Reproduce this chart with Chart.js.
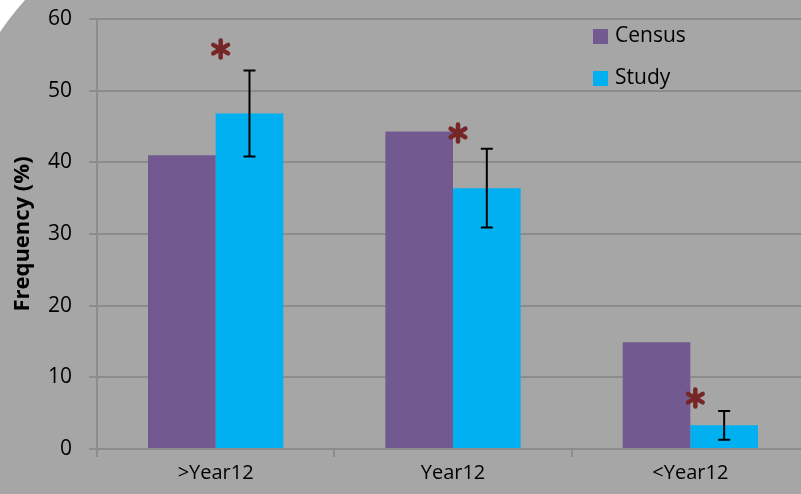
<!DOCTYPE html>
<html>
<head>
<meta charset="utf-8">
<script src="https://cdn.jsdelivr.net/npm/chart.js@4/dist/chart.umd.min.js"></script>
<style>
  html, body { margin: 0; padding: 0; background: #a6a6a6; overflow: hidden; }
  canvas { display: block; }
</style>
</head>
<body>
<canvas id="eduChart" width="809" height="494"></canvas>
<script>
const categories = ['>Year12', 'Year12', '<Year12'];
const censusValues = [41.0, 44.3, 14.9];
const studyValues = [46.8, 36.4, 3.3];
const studyErrors = [6.0, 5.5, 2.0];
// height (in %) at which each significance star sits
const starLevels = [55.8, 44.1, 7.1];

const FONT = '"Open Sans", "Liberation Sans", sans-serif';
const GRID = '#8c8c8c';

// white folded corner in the top-left
const cornerPlugin = {
    id: 'corner',
    beforeDraw(chart) {
        const ctx = chart.ctx;
        ctx.save();
        ctx.fillStyle = '#ffffff';
        ctx.beginPath();
        ctx.moveTo(0, 0);
        ctx.lineTo(25, 0);
        ctx.quadraticCurveTo(10, 17, 0, 32);
        ctx.closePath();
        ctx.fill();
        ctx.restore();
    }
};

const errorBarPlugin = {
    id: 'errorBars',
    afterDatasetsDraw(chart) {
        const ctx = chart.ctx;
        const yScale = chart.scales.y;
        const meta = chart.getDatasetMeta(1);
        ctx.save();
        ctx.strokeStyle = '#000000';
        ctx.lineWidth = 2;
        meta.data.forEach((bar, i) => {
            const v = studyValues[i], e = studyErrors[i];
            const top = yScale.getPixelForValue(v + e);
            const bot = yScale.getPixelForValue(v - e);
            ctx.beginPath();
            ctx.moveTo(bar.x, top);
            ctx.lineTo(bar.x, bot);
            ctx.moveTo(bar.x - 6, top);
            ctx.lineTo(bar.x + 6, top);
            ctx.moveTo(bar.x - 6, bot);
            ctx.lineTo(bar.x + 6, bot);
            ctx.stroke();
        });
        ctx.restore();
    }
};

const starPlugin = {
    id: 'stars',
    afterDatasetsDraw(chart) {
        const ctx = chart.ctx;
        const xScale = chart.scales.x;
        const yScale = chart.scales.y;
        ctx.save();
        ctx.strokeStyle = '#762626';
        ctx.lineWidth = 4.5;
        ctx.lineCap = 'round';
        starLevels.forEach((lvl, i) => {
            const cx = xScale.getPixelForValue(i) + 5;
            const cy = yScale.getPixelForValue(lvl);
            const r = 8.5;
            for (let k = 0; k < 3; k++) {
                const a = Math.PI / 2 + k * Math.PI / 3;
                ctx.beginPath();
                ctx.moveTo(cx - r * Math.cos(a), cy - r * Math.sin(a));
                ctx.lineTo(cx + r * Math.cos(a), cy + r * Math.sin(a));
                ctx.stroke();
            }
        });
        ctx.restore();
    }
};

const legendPlugin = {
    id: 'boxLegend',
    afterDraw(chart) {
        const ctx = chart.ctx;
        ctx.save();
        ctx.font = '21px ' + FONT;
        ctx.textBaseline = 'middle';
        chart.data.datasets.forEach((ds, i) => {
            const y = 36 + i * 42;
            ctx.fillStyle = ds.backgroundColor;
            ctx.fillRect(593, y - 7, 15, 15);
            ctx.fillStyle = '#000000';
            ctx.fillText(ds.label, 615, y);
        });
        ctx.restore();
    }
};

new Chart(document.getElementById('eduChart').getContext('2d'), {
    type: 'bar',
    data: {
        labels: categories,
        datasets: [
            { label: 'Census', data: censusValues, backgroundColor: '#725a91' },
            { label: 'Study', data: studyValues, backgroundColor: '#00b0f0' }
        ]
    },
    options: {
        responsive: false,
        animation: false,
        events: [],
        categoryPercentage: 0.57,
        barPercentage: 1.0,
        layout: { padding: { top: 19, right: 0, left: 0, bottom: 0 } },
        scales: {
            x: {
                grid: {
                    drawOnChartArea: false,
                    drawTicks: true,
                    tickLength: 8,
                    color: GRID,
                    lineWidth: 2
                },
                border: { display: true, color: GRID, width: 2 },
                ticks: { color: '#000', font: { family: FONT, size: 20 }, padding: 4 },
                afterFit(scale) { scale.height = 45; }
            },
            y: {
                min: 0,
                max: 60,
                grid: { color: GRID, lineWidth: 2, tickLength: 8 },
                border: { display: true, color: GRID, width: 2 },
                ticks: { stepSize: 10, color: '#000', font: { family: FONT, size: 21 }, padding: 17 },
                title: {
                    display: true,
                    text: 'Frequency (%)',
                    color: '#000',
                    font: { family: FONT, size: 22, weight: 'bold' },
                    padding: { top: 10, bottom: 0 }
                },
                afterFit(scale) {
                    scale.width = 97;
                    scale.paddingTop = 0;
                    scale.paddingBottom = 0;
                }
            }
        },
        plugins: {
            legend: { display: false },
            tooltip: { enabled: false }
        }
    },
    plugins: [cornerPlugin, errorBarPlugin, starPlugin, legendPlugin]
});
</script>
</body>
</html>
